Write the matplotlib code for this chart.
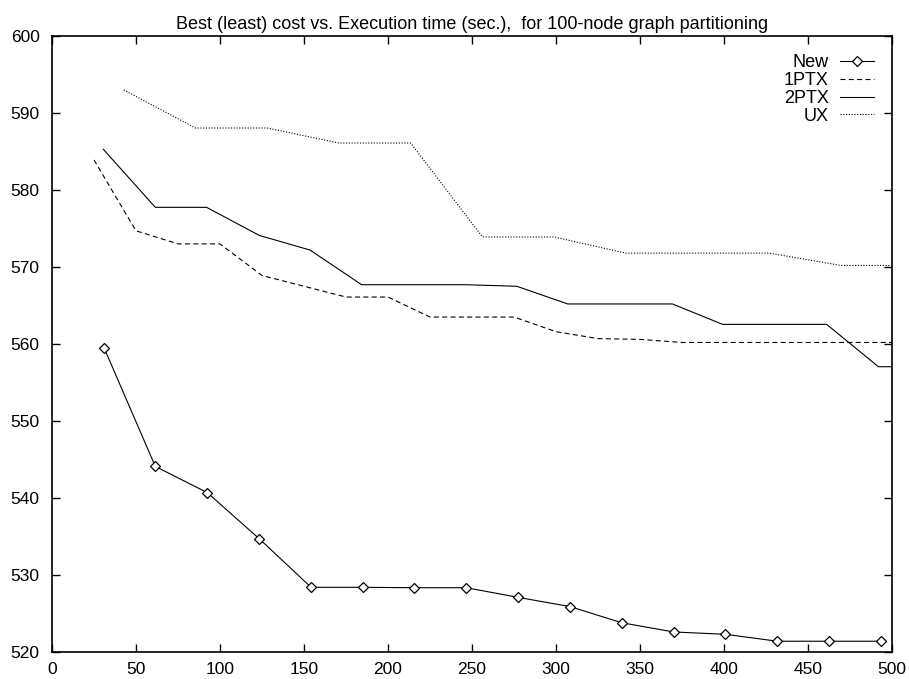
import matplotlib
matplotlib.use('Agg')
import matplotlib.pyplot as plt

plt.rcParams['font.family'] = ['Liberation Sans', 'DejaVu Sans']

# (execution time in sec., best cost)
new_t = [31, 61.5, 92.4, 123.4, 154.2, 185, 215.7, 246.6, 277.4, 308.3, 339.1, 370.1, 400.8, 431.7, 462.5, 493.3]
new_cost = [559.5, 544.1, 540.7, 534.7, 528.4, 528.4, 528.35, 528.35, 527.1, 525.9, 523.8, 522.6, 522.3, 521.4, 521.4, 521.4]

ptx1_t = [25, 50, 75, 100, 125, 150, 175, 200, 225, 250, 275, 300, 325, 350, 375, 400, 425, 450, 475, 500]
ptx1_cost = [583.9, 574.7, 573.0, 573.0, 568.9, 567.5, 566.1, 566.1, 563.5, 563.5, 563.5, 561.6, 560.7, 560.6, 560.2, 560.2, 560.2, 560.2, 560.2, 560.2]

ptx2_t = [30.5, 61.5, 92, 123.4, 153.6, 184.3, 215, 246, 276.6, 307, 338, 369.3, 399.2, 430, 461.1, 491.9, 500]
ptx2_cost = [585.3, 577.75, 577.75, 574.1, 572.2, 567.7, 567.7, 567.7, 567.5, 565.2, 565.2, 565.2, 562.55, 562.55, 562.55, 557.05, 557.05]

ux_t = [42.7, 85.4, 128.1, 170.8, 213.5, 256.2, 298.9, 341.6, 384.3, 427, 469.7, 500]
ux_cost = [593.0, 588.05, 588.05, 586.1, 586.1, 573.9, 573.9, 571.8, 571.8, 571.8, 570.2, 570.2]

fig = plt.figure(figsize=(9.09, 6.79), dpi=100)
ax = fig.add_axes([52 / 909, 27 / 679, 840 / 909, 616 / 679])

lw = 0.8
ax.plot(new_t, new_cost, color='black', lw=lw, marker='D', ms=5.5,
        mfc='white', mec='black', mew=0.9, label='New')
ax.plot(ptx1_t, ptx1_cost, color='black', lw=lw, ls=(0, (4.5, 3)), label='1PTX')
ax.plot(ptx2_t, ptx2_cost, color='black', lw=lw, label='2PTX')
ax.plot(ux_t, ux_cost, color='black', lw=lw, ls=(0, (1, 1.5)), label='UX')

ax.set_xlim(0, 500)
ax.set_ylim(520, 600)
ax.set_xticks(range(0, 501, 50))
ax.set_yticks(range(520, 601, 10))
ax.tick_params(direction='in', length=6, width=1, top=True, right=True,
               labelsize=12.5, colors='black')
ax.tick_params(axis='y', pad=9)
ax.tick_params(axis='x', pad=7)
for s in ax.spines.values():
    s.set_linewidth(1.2)

ax.set_title('Best (least) cost vs. Execution time (sec.),  for 100-node graph partitioning',
             fontsize=13, pad=5)

# text then sample, rows right-aligned (gnuplot style key)
ax.legend(loc='upper right', frameon=False, markerfirst=False, fontsize=13,
          handlelength=1.9, handletextpad=0.6, labelspacing=0.05,
          borderaxespad=0.6)

fig.savefig('out.png', dpi=100)
